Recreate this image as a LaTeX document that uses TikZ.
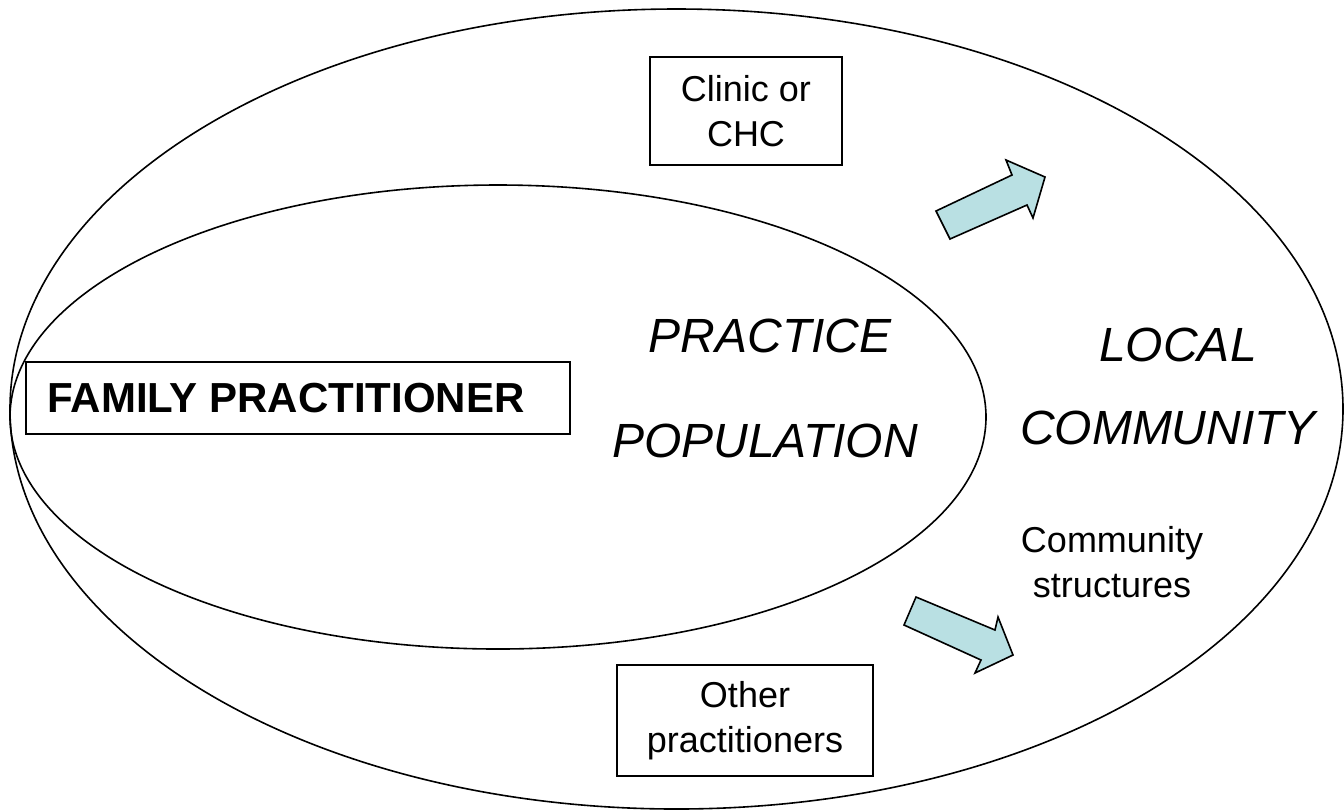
\documentclass[tikz,border=0pt]{standalone}
\usepackage{fontspec}
\setmainfont{Liberation Sans}
\definecolor{arrowfill}{HTML}{B9E0E3}
\begin{document}
\begin{tikzpicture}[x=0.5pt,y=-0.5pt,
  ring/.style={draw=black,line width=0.8pt},
  boxnode/.style={draw=black,line width=0.7pt,inner sep=0pt,align=center},
  fatarrow/.style={draw=black,line width=0.8pt,fill=arrowfill,line join=miter},
  bigital/.style={font=\fontsize{24}{28}\selectfont\itshape},
  smalltxt/.style={font=\fontsize{18}{22.5}\selectfont}]
\useasboundingbox (0,0) rectangle (1344,811);
% ellipses
\draw[ring] (676.5,409) ellipse [x radius=666.5, y radius=400];
\draw[ring] (498,417) ellipse [x radius=488, y radius=232];
% boxes
\node[boxnode,smalltxt,minimum width=96pt,minimum height=54pt] (clinic) at (746,111) {Clinic or\\CHC};
\node[boxnode,minimum width=272pt,minimum height=36pt,font=\fontsize{21}{25}\selectfont\bfseries] (fp) at (298,398) {\hspace*{-12pt}FAMILY PRACTITIONER};
\node[boxnode,smalltxt,minimum width=128pt,minimum height=55.5pt] (other) at (745,720.5) {Other\\practitioners};
% big labels
\node[bigital] (practice) at (770,336) {PRACTICE};
\node[bigital] (population) at (765,441) {POPULATION};
\node[bigital] (local) at (1178,345) {LOCAL};
\node[bigital] (community) at (1168,428) {COMMUNITY};
\node[smalltxt,align=center] (structures) at (1112,562) {Community\\structures};
% block arrows
\draw[fatarrow] (950,239) -- (936,211) -- (1012,175) -- (1006,160) -- (1045,177) -- (1033,218) -- (1027,205) -- cycle;
\draw[fatarrow] (916,597) -- (995,630) -- (998,617) -- (1013,655) -- (975,673) -- (981,660) -- (904,625) -- cycle;
\end{tikzpicture}
\end{document}
